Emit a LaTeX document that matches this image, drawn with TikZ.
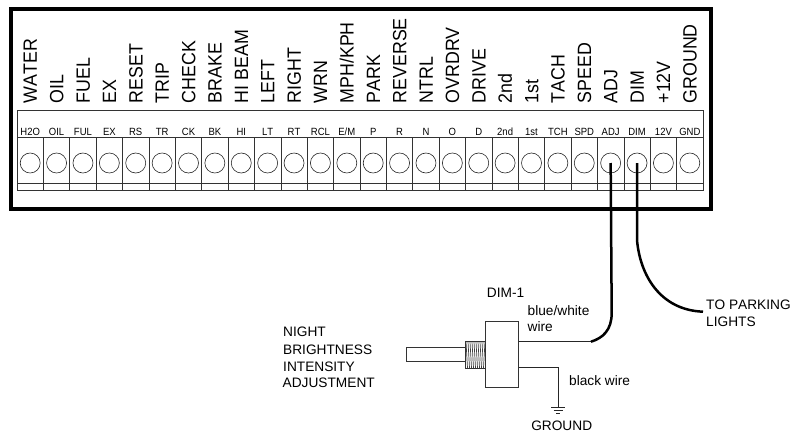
\documentclass[tikz,border=0pt]{standalone}
\usepackage{fontspec}
\setmainfont[Kerning=Off]{Liberation Sans}
\tikzset{
 frame/.style={draw=black,line width=3.6pt,line join=miter},
 strip/.style={draw=black!80,line width=0.7pt},
 terminal/.style={circle,draw=black!85,line width=0.6pt,minimum size=20pt,inner sep=0pt},
 biglabel/.style={rotate=90,anchor=base west,inner sep=0pt,font=\fontsize{17.8}{20}\selectfont},
 smalllabel/.style={anchor=base,inner sep=0pt,font=\fontsize{9.5}{10}\selectfont},
 note/.style={anchor=base west,inner sep=0pt,font=\fontsize{13.7}{15}\selectfont},
 heavywire/.style={draw=black,line width=2.5pt},
 thinwire/.style={draw=black!85,line width=0.8pt},
 part/.style={draw=black!80,line width=0.8pt,fill=white,inner sep=0pt},
}
\begin{document}
\begin{tikzpicture}[x=1pt,y=-1pt]
\useasboundingbox (0,0) rectangle (793,434);
\draw[frame] (10.7,8.8) rectangle (711,209);
\draw[strip] (17,110.5) rectangle (703,190);
\draw[strip] (17,137) -- (703,137);
\draw[strip] (17,183) -- (703,183);
\foreach \i in {1,...,25} \draw[strip] ({17+26.385*\i},137) -- ({17+26.385*\i},190);
\foreach \big/\small [count=\n] in {WATER/H2O,OIL/OIL,FUEL/FUL,EX/EX,RESET/RS,TRIP/TR,CHECK/CK,BRAKE/BK,HI BEAM/HI,LEFT/LT,RIGHT/RT,WRN/RCL,MPH\slash KPH/E\slash M,PARK/P,REVERSE/R,NTRL/N,OVRDRV/O,DRIVE/D,2nd/2nd,1st/1st,TACH/TCH,SPEED/SPD,ADJ/ADJ,DIM/DIM,+12V/12V,GROUND/GND}{
  \pgfmathsetmacro{\cx}{17+26.385*(\n-0.5)}
  \node[terminal] (t\n) at (\cx,163) {};
  \node[biglabel] (b\n) at ({\cx+6.8},103.5) {\scalebox{1}[1.08]{\big}};
  \node[smalllabel] (s\n) at (\cx,135) {\scalebox{1}[1.1]{\small}};
}
% dimmer
\node[part,minimum width=59pt,minimum height=13.8pt] (shaft) at (436,354.6) {};
\node[part,minimum width=20.2pt,minimum height=26.5pt] (thread) at (475.6,354.7) {};
\foreach \k in {0,...,9} \draw[black!75,line width=0.7pt] ({466+2*\k},341.8) -- ({467.5+2*\k},367.8);
\node[part,minimum width=32.6pt,minimum height=65.3pt] (body) at (502,354.3) {};
% wires
\coordinate (adjend) at (591,341.7);
\coordinate (dimend) at (703,311.7);
\coordinate (gnd) at (558,407.5);
\draw[thinwire] (body.east |- adjend) -- (adjend);
\draw[heavywire] (t23.center) -- (611.7,313) .. controls (611.7,330) and (603,338) .. (adjend);
\draw[heavywire] (t24.center) -- (637,240) .. controls (640,275) and (660,310) .. (dimend);
\draw[thinwire] (body.east |- 0,367.5) -- (558,367.5) -- (gnd);
\draw[black!85,line width=0.8pt] (551,407.5) -- (565,407.5) (553.5,410.5) -- (562.5,410.5) (556,413.5) -- (560,413.5);
% labels
\node[note] (dim1) at (486.7,297) {DIM-1};
\node[note] (bw1) at (527.5,315) {blue/white};
\node[note] (bw2) at (527.5,331.7) {wire};
\node[note] (blk) at (569,385) {black wire};
\node[note,anchor=base] (g) at (561.7,430) {GROUND};
\node[note] (n1) at (283,336.7) {NIGHT};
\node[note] (n2) at (283,354) {BRIGHTNESS};
\node[note] (n3) at (283,371) {INTENSITY};
\node[note] (n4) at (282.5,387) {ADJUSTMENT};
\node[note] (p1) at (706,309) {TO PARKING};
\node[note] (p2) at (706,326) {LIGHTS};
\end{tikzpicture}
\end{document}
